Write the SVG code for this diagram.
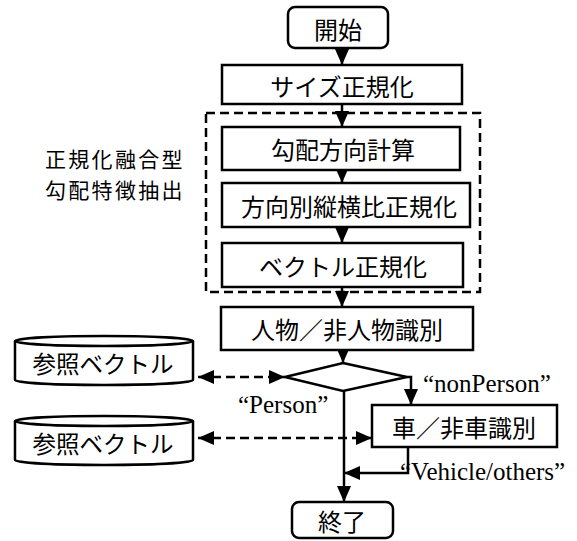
<svg xmlns="http://www.w3.org/2000/svg" width="577" height="541" viewBox="0 0 577 541">
<defs>
<style>
.box{fill:#fff;stroke:#000;stroke-width:2.5}
.ln{fill:none;stroke:#000;stroke-width:2.5}
.dash{fill:none;stroke:#000;stroke-width:2.5;stroke-dasharray:9 5}
.jp{font-family:"Noto Sans CJK JP","Noto Sans CJK SC",sans-serif;font-size:24px;fill:#000;text-anchor:middle;dominant-baseline:central}
.lab{font-family:"Noto Sans CJK JP","Noto Sans CJK SC",sans-serif;font-size:21px;letter-spacing:2.3px;fill:#000}
.en{font-family:"Liberation Serif",serif;font-size:25px;fill:#000}
</style>
<marker id="ah" viewBox="0 0 16 14" refX="16" refY="7" markerWidth="16" markerHeight="14" markerUnits="userSpaceOnUse" orient="auto-start-reverse">
<path d="M0,0 L16,7 L0,14 Z" fill="#000"/>
</marker>
</defs>
<g id="connectors">
<line class="ln" x1="342" y1="48" x2="342" y2="65" marker-end="url(#ah)"/>
<line class="ln" x1="342" y1="104" x2="342" y2="127" marker-end="url(#ah)"/>
<line class="ln" x1="342" y1="170" x2="342" y2="183" marker-end="url(#ah)"/>
<line class="ln" x1="342" y1="227" x2="342" y2="243" marker-end="url(#ah)"/>
<line class="ln" x1="342" y1="287" x2="342" y2="307" marker-end="url(#ah)"/>
<line class="ln" x1="343" y1="350" x2="343" y2="363" marker-end="url(#ah)"/>
<path class="ln" d="M407,377 L411,377 L411,405" marker-end="url(#ah)"/>
<line class="ln" x1="344" y1="391" x2="344" y2="502" marker-end="url(#ah)"/>
<path class="ln" d="M408,447 L408,473 L344,473" marker-end="url(#ah)"/>
<line class="dash" x1="198" y1="377" x2="285" y2="377" marker-start="url(#ah)" marker-end="url(#ah)"/>
<line class="dash" x1="198" y1="438" x2="372" y2="438" marker-start="url(#ah)" marker-end="url(#ah)"/>
</g>
<g id="group-dashed">
<rect class="dash" x="206" y="113" width="274" height="179"/>
</g>
<g id="label-group">
<text class="lab" x="45" y="167">正規化融合型</text>
<text class="lab" x="45" y="198">勾配特徴抽出</text>
</g>
<g id="start">
<rect class="box" x="288" y="7" width="100" height="41" rx="7"/>
<text class="jp" x="338" y="28">開始</text>
</g>
<g id="size-norm">
<rect class="box" x="222" y="65" width="240" height="39"/>
<text class="jp" x="342" y="85">サイズ正規化</text>
</g>
<g id="grad-dir">
<rect class="box" x="222" y="127" width="238" height="43"/>
<text class="jp" x="343" y="148">勾配方向計算</text>
</g>
<g id="aspect-norm">
<rect class="box" x="222" y="183" width="248" height="44"/>
<text class="jp" x="349" y="205">方向別縦横比正規化</text>
</g>
<g id="vec-norm">
<rect class="box" x="222" y="243" width="241" height="44"/>
<text class="jp" x="343" y="265">ベクトル正規化</text>
</g>
<g id="person-id">
<rect class="box" x="221" y="307" width="252" height="43"/>
<text class="jp" x="347" y="328">人物／非人物識別</text>
</g>
<g id="decision">
<polygon class="box" points="343,363 407,377 343,391 285,377"/>
</g>
<g id="vehicle-id">
<rect class="box" x="372" y="405" width="185" height="42"/>
<text class="jp" x="464" y="426">車／非車識別</text>
</g>
<g id="end">
<rect class="box" x="292" y="502" width="101" height="36" rx="7"/>
<text class="jp" x="342" y="520">終了</text>
</g>
<g id="ref-vec-1">
<path class="box" d="M15,341 A89,5 0 0 1 193,341 L193,380 A89,5 0 0 1 15,380 Z"/>
<path class="ln" d="M15,341 A89,5 0 0 0 193,341"/>
<text class="jp" x="103" y="363" style="font-size:23.5px">参照ベクトル</text>
</g>
<g id="ref-vec-2">
<path class="box" d="M15,421 A89,5 0 0 1 193,421 L193,460 A89,5 0 0 1 15,460 Z"/>
<path class="ln" d="M15,421 A89,5 0 0 0 193,421"/>
<text class="jp" x="103" y="443" style="font-size:23.5px">参照ベクトル</text>
</g>
<g id="edge-labels">
<text class="en" x="423" y="392">“nonPerson”</text>
<text class="en" x="238" y="413">“Person”</text>
<text class="en" x="400" y="480">“Vehicle/others”</text>
</g>
</svg>
